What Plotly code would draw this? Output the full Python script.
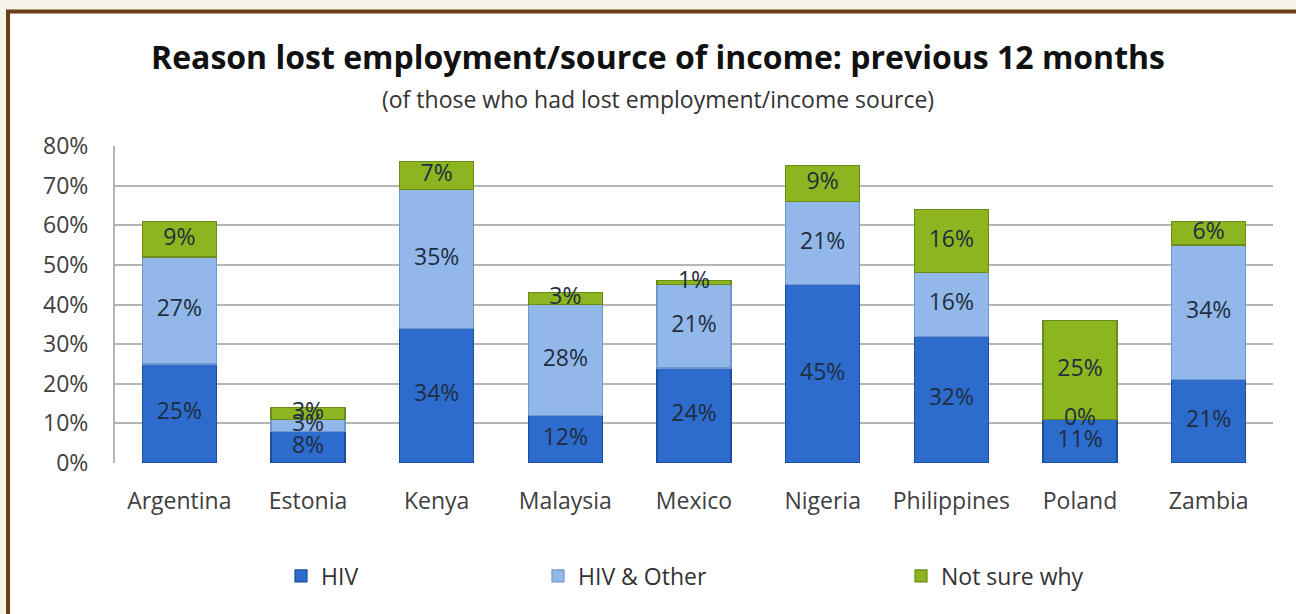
import plotly.graph_objects as go
import numpy as np

countries = ["Argentina", "Estonia", "Kenya", "Malaysia", "Mexico", "Nigeria", "Philippines", "Poland", "Zambia"]
hiv = [25, 8, 34, 12, 24, 45, 32, 11, 21]
hiv_other = [27, 3, 35, 28, 21, 21, 16, 0, 34]
not_sure = [9, 3, 7, 3, 1, 9, 16, 25, 6]
series_names = ["HIV", "HIV & Other", "Not sure why"]
y_ticks = [0, 10, 20, 30, 40, 50, 60, 70, 80]

colors = ["#2d6ccc", "#92b8ea", "#8db51f"]
edge_colors = ["#1c4d9e", "#6f97cf", "#6a8c14"]

W, H = 1296, 614
L, R, T, B = 115, 23, 146, 151
pw, ph = W - L - R, H - T - B
FONT = "Open Sans, Lato, sans-serif"

def px_x(p):
    return (p - L) / pw

def px_y(p):
    return (H - B - p) / ph

fig = go.Figure()
series = [hiv, hiv_other, not_sure]
legend_ids = ["legend", "legend2", "legend3"]
for i, (name, vals) in enumerate(zip(series_names, series)):
    fig.add_trace(go.Bar(
        x=countries, y=vals, name=name,
        marker=dict(color=colors[i], line=dict(color=edge_colors[i], width=1.2)),
        width=0.575, legend=legend_ids[i], hoverinfo="x+y+name",
    ))

# data labels centred on each segment
base = np.zeros(len(countries))
for i, vals in enumerate(series):
    v = np.array(vals, dtype=float)
    mid = base + v / 2
    fig.add_trace(go.Scatter(
        x=countries, y=mid, mode="text",
        text=[f"{int(x)}%" for x in vals],
        textfont=dict(family=FONT, size=23, color="#1f2d40"),
        showlegend=False, hoverinfo="skip",
    ))
    base = base + v

fig.update_layout(
    barmode="stack",
    width=W, height=H,
    margin=dict(l=L, r=R, t=T, b=B),
    paper_bgcolor="#f7f3e8",
    plot_bgcolor="white",
    title=dict(
        text="<b>Reason lost employment/source of income: previous 12 months</b>",
        x=px_x(658), xref="paper", xanchor="center", y=1 - 58 / H, yanchor="middle",
        font=dict(family=FONT, size=32, color="#111111"),
    ),
    font=dict(family=FONT, color="#404040"),
    xaxis=dict(
        showgrid=False, showline=False, ticks="",
        tickfont=dict(size=23, color="#404040"),
        ticklabelstandoff=22,
    ),
    yaxis=dict(
        range=[0, 80], tickvals=y_ticks, ticktext=[f"{t}%" for t in y_ticks],
        showgrid=True, gridcolor="#b5b5b5", gridwidth=2,
        showline=True, linecolor="#b5b5b5", linewidth=2,
        ticks="", ticklabelstandoff=20,
        tickfont=dict(size=23, color="#404040"), zeroline=False,
    ),
    shapes=[dict(
        type="rect", xref="paper", yref="paper",
        x0=px_x(8), x1=px_x(1400), y0=px_y(700), y1=px_y(11.5),
        fillcolor="white", line=dict(color="#6b3e17", width=4), layer="below",
    )],
    annotations=[dict(
        text="(of those who had lost employment/income source)",
        xref="paper", yref="paper", x=px_x(658), y=px_y(99),
        xanchor="center", yanchor="middle", showarrow=False,
        font=dict(family=FONT, size=23, color="#333333"),
    )],
)

legend_x = [281, 538, 901]
for lid, lx in zip(legend_ids, legend_x):
    fig.update_layout(**{lid: dict(
        x=px_x(lx), y=px_y(576), xanchor="left", yanchor="middle",
        orientation="h", bgcolor="rgba(0,0,0,0)",
        font=dict(family=FONT, size=23, color="#333333"),
        itemwidth=30,
    )})

fig.write_html(
    "out.html",
    config={"displayModeBar": False},
    post_script="document.body.style.margin='0';document.body.style.overflow='hidden';",
)
